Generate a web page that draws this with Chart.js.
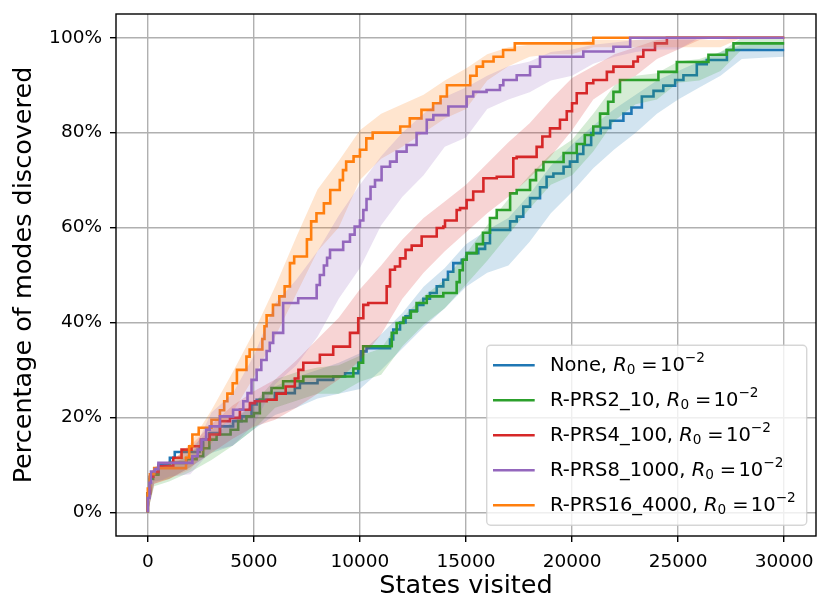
<!DOCTYPE html>
<html><head><meta charset="utf-8">
<script src="https://cdn.jsdelivr.net/npm/chart.js@4.4.1/dist/chart.umd.min.js"></script>
<style>html,body{margin:0;padding:0;background:#fff}canvas{display:block}</style>
</head><body>
<canvas id="c" width="830" height="615"></canvas>
<script>
// ---- data ----
const xTicks = [0, 5000, 10000, 15000, 20000, 25000, 30000];
const yTicks = [0, 20, 40, 60, 80, 100];
const seriesNames = ['None', 'R-PRS2_10', 'R-PRS4_100', 'R-PRS8_1000', 'R-PRS16_4000'];
const colors = ['#1f77b4', '#2ca02c', '#d62728', '#9467bd', '#ff7f0e'];

const noneX = [0,100,250,500,1040,1270,2450,2610,2900,3400,4020,4420,4890,5130,5990,6930,7170,8000,8740,9300,9920,10050,10310,11420,11570,11890,12150,12360,12700,12990,13300,13620,13930,14150,14400,14800,15030,15580,15900,16130,17080,17390,17700,18020,18490,18800,19120,19600,19900,20250,20530,20900,21350,21800,22420,22800,23290,23840,24300,24860,25250,25880,26350,27300,27370,30000];
const noneY = [0,4,7.5,8.2,10,11.5,12.7,13.9,15.3,16.7,18.1,19.2,20.2,22.7,23.7,25.1,26.2,27.2,27.9,28.6,29.3,31.5,33.9,34.6,36.4,38.5,40,41.3,42.5,43.7,45,46.2,47.6,49,50.7,52.5,53.2,54.6,55.5,56.7,59.5,61.3,62.3,64.4,66.2,68.5,70.7,71.4,72.8,73.9,75.5,77.4,79.9,81,82.5,84,85.3,87.6,88.8,89.9,91.1,92.1,94.4,95.3,97.4,97.4];

const prs2X = [0,100,250,500,1040,1825,2300,2610,2900,3240,3900,4260,4650,5000,5280,5440,5830,6380,7330,9690,9950,10150,11500,11730,12050,12400,12670,13150,13930,14560,14700,14850,15030,15500,15800,16130,16450,17080,17390,18020,18300,18650,19600,20220,20600,21000,21320,21700,21950,22260,24070,24940,26430,27290,27610,27920,30000];
const prs2Y = [0,4,7,7.9,9.7,10.4,11.2,11.8,13.5,15.3,16.4,17.4,19.2,20.2,20.9,23.7,25.1,26.2,27.6,28.6,30.3,31.5,35,37.8,39.9,41,42.3,44.1,45.5,46.2,48.5,51,53.2,54.6,56.5,58.9,62,63.7,67.2,67.9,70,72.1,73.8,75.7,77.6,79.5,81.3,84,86.5,88.6,91.1,92.8,94.9,96.4,97.4,98.8,98.8];

const prs4X = [0,100,250,500,1200,1590,2060,2500,2920,3400,3870,4340,4810,5050,5600,6070,6500,6930,7100,7330,8110,8740,9530,9920,10160,10390,11260,11420,11650,11890,12150,12440,12910,13620,13930,14010,14560,14720,15030,15340,15820,16450,17230,17390,18330,18600,18960,19430,19750,20000,20220,20690,21000,21640,21950,22890,23100,23360,23910,24470,25570,30000];
const prs4Y = [0,4,7.5,8.5,9.7,11.5,13.2,13.9,15.3,16.4,19.2,19.9,21.6,23,23.4,23.7,25,26.5,28.2,30,31.5,33.2,34.9,37.8,40.9,43.7,44.1,47.6,51.1,51.8,53.5,55.3,56.2,58.1,59.9,60.2,61.5,63.7,64.1,65.8,67.6,70.4,70.7,74.6,74.9,77,79.2,80.9,82.7,84.5,86.2,88.3,90.4,91.1,92.8,93.9,95,96,97.4,98.8,100,100];

const prs8X = [0,80,150,330,500,2100,2350,2530,2750,2920,3400,4020,4500,4700,4890,5130,5350,5600,5750,5910,6380,7090,7960,8110,8300,8450,8590,9210,9530,9750,10000,10160,10310,10500,10710,11020,11420,11730,12200,12670,13150,13460,14170,15030,15340,15970,16600,16760,17390,18020,18490,20530,21950,22740,25720,30000];
const prs8Y = [0,3,6.2,8.6,9.1,10.4,11.8,13.2,15.3,17.4,18.1,20.2,21.6,23.4,25.1,27.9,30,32.1,34,35.7,37.8,44.1,45.1,47.9,50,52,53.6,55.3,57,58.5,60.2,61.5,63.7,66,68.6,70,72.8,73.9,76,77.4,79.9,82.7,83.7,85.5,87.6,88.6,89,90,91.1,92.1,93.9,96,97.1,98.1,100,100];

const prs16X = [0,100,300,1800,1950,2100,2400,3000,3400,3600,3750,4000,4200,4650,4800,5400,5500,5600,5900,6200,6450,6700,6900,7500,7700,7950,8300,8600,9050,9200,9350,9700,10000,10300,10600,11900,12350,12900,13450,13800,14100,15200,15500,15800,16300,16750,17300,21000,27650,30000];
const prs16Y = [0,5,8,9.3,11.5,13.9,16.4,17.8,19.5,21.5,23.4,25,27.2,30,32.8,34.3,36.5,39.2,41.5,43.7,45.5,47.6,52.5,53.9,57.5,61.3,63,65.1,67.9,70,72.1,73.9,75,76.4,78.8,80,81.3,83,84.8,86.2,87.6,90,92,93.9,95,96,97.4,98.8,100,100];

// shaded band edges, sampled at bandX
const bandX = [0,300,1000,2000,3000,4000,5000,6000,7000,8000,9000,10000,11000,12000,13000,14000,15000,16000,17000,18000,19000,20000,21000,22000,23000,24000,25000,26000,27000,28000,29000,30000];
const noneLo = [0,6.5,7,9.5,12.5,14,17.5,20.5,22,24,25,26,30,34.5,39,43,47.5,50.5,52,57,63,67.5,72.5,76.5,80,84,87,89.5,92,95.5,95.8,96];
const noneHi = [0,9.5,10.5,13.5,17.5,19.5,23,26.5,28.5,30,31.5,33.5,37.5,42,47.5,51.5,56.5,59.5,62,67,73,77.5,81.5,85,88,91,93,95,97,98.5,98.6,98.8];
const prs2Lo = [0,5.5,6.5,8.5,11,14,17.5,22,23.5,25,25,27.5,29,35,39.5,43,48,53,58.5,64,69,71,76,82.5,86,87,90.5,91,93,97.5,97.8,97.8];
const prs2Hi = [0,9,9.5,12.5,16,19,23,28,29.5,30.5,31,33,34.5,41,45.5,49,54.5,60.5,66,71,75.5,78.5,84,90,92,92.5,95,95.5,97,100,100,100];
const prs4Lo = [0,6,7,9.5,12.5,15.5,18,19.5,22,25,28,32,37.5,45,50.5,55,59,63,66.5,70.5,75,80.5,87,90,92,95.5,97.5,99.5,100,100,100,100];
const prs4Hi = [0,9.5,10.5,14,18.5,22.5,25.5,28,32,36.5,41,47,52,57.5,62,65.5,69,73.5,78,82,87,91.5,94,96.5,98,99.5,100,100,100,100,100,100];
const prs8Lo = [0,6,7.5,8,13,14,18.5,27,31,37,45,51.5,60.5,66.5,71,77,79,85,87,88.5,91,92,94.5,96,97,97.5,97.5,100,100,100,100,100];
const prs8Hi = [0,9.5,10.5,11.5,21,25,33,44,49,55,62.5,69,75,80,84,87.5,89.5,92,94,95,97,97.5,98.5,99,99.5,100,100,100,100,100,100,100];
const prs16Lo = [0,6,7,9,14.5,21,28.5,37,46,55,60,70,74.5,77,80,83,85,91,94,96,96.5,96.5,98,98,98,98,98,98,98,100,100,100];
const prs16Hi = [0,9,10,14.5,21.5,29.5,38,47.5,58,68,74,80.5,84,86,88,91,93.5,96.5,98,98.5,98.5,98.8,99.5,99.5,99.5,99.5,99.5,99.5,99.5,100,100,100];

const lineXs = [noneX, prs2X, prs4X, prs8X, prs16X];
const lineYs = [noneY, prs2Y, prs4Y, prs8Y, prs16Y];
const bandLos = [noneLo, prs2Lo, prs4Lo, prs8Lo, prs16Lo];
const bandHis = [noneHi, prs2Hi, prs4Hi, prs8Hi, prs16Hi];
// bottom-to-top drawing sequence (series indices)
const drawSequence = [0, 1, 2, 4, 3];

// ---- build datasets ----
function pts(xs, ys) { return xs.map((x, i) => ({x: x, y: ys[i]})); }
function rgba(hex, a) {
  const n = parseInt(hex.slice(1), 16);
  return `rgba(${(n >> 16) & 255},${(n >> 8) & 255},${n & 255},${a})`;
}
const datasets = [];
drawSequence.forEach((i, k) => {
  const name = seriesNames[i];
  const loIdx = datasets.length;
  datasets.push({
    label: name + ' lo', data: pts(bandX, bandLos[i]),
    borderColor: 'rgba(0,0,0,0)', borderWidth: 0, pointRadius: 0, fill: false,
    order: 1000 - (k * 3)
  });
  datasets.push({
    label: name + ' hi', data: pts(bandX, bandHis[i]),
    borderColor: 'rgba(0,0,0,0)', borderWidth: 0, pointRadius: 0,
    backgroundColor: rgba(colors[i], 0.2), fill: loIdx,
    order: 1000 - (k * 3 + 1)
  });
  datasets.push({
    label: name, data: pts(lineXs[i], lineYs[i]),
    borderColor: colors[i], borderWidth: 2.6, pointRadius: 0, fill: false,
    stepped: 'after', borderCapStyle: 'butt', borderJoinStyle: 'miter',
    order: 1000 - (k * 3 + 2)
  });
});

// ---- frame + legend ----
function drawMathLabel(ctx, x, y, name, fs) {
  const fam = '"DejaVu Sans"';
  ctx.fillStyle = '#000';
  ctx.textBaseline = 'alphabetic';
  ctx.textAlign = 'left';
  ctx.font = `${fs}px ${fam}`;
  const pre = name + ', ';
  ctx.fillText(pre, x, y); x += ctx.measureText(pre).width;
  ctx.font = `italic ${fs}px ${fam}`;
  ctx.fillText('R', x, y); x += ctx.measureText('R').width;
  const sfs = fs * 0.7;
  ctx.font = `${sfs}px ${fam}`;
  ctx.fillText('0', x, y + fs * 0.15); x += ctx.measureText('0').width;
  ctx.font = `${fs}px ${fam}`;
  x += fs * 0.3;
  ctx.fillText('=', x, y); x += ctx.measureText('=').width + fs * 0.12;
  ctx.fillText('10', x, y); x += ctx.measureText('10').width;
  ctx.font = `${sfs}px ${fam}`;
  ctx.fillText('\u22122', x, y - fs * 0.45);
}

const frameLegend = {
  id: 'frameLegend',
  afterDraw(chart) {
    const {ctx, chartArea: a} = chart;
    ctx.save();
    ctx.strokeStyle = '#000';
    ctx.lineWidth = 1.4;
    ctx.strokeRect(a.left, a.top, a.right - a.left, a.bottom - a.top);

    const fs = 19.5, w = 320, h = 180, r = 4;
    const bx = a.right - 9.3 - w, by = a.bottom - 10.7 - h;
    ctx.beginPath();
    ctx.moveTo(bx + r, by);
    ctx.lineTo(bx + w - r, by); ctx.arcTo(bx + w, by, bx + w, by + r, r);
    ctx.lineTo(bx + w, by + h - r); ctx.arcTo(bx + w, by + h, bx + w - r, by + h, r);
    ctx.lineTo(bx + r, by + h); ctx.arcTo(bx, by + h, bx, by + h - r, r);
    ctx.lineTo(bx, by + r); ctx.arcTo(bx, by, bx + r, by, r);
    ctx.closePath();
    ctx.fillStyle = 'rgba(255,255,255,0.8)';
    ctx.fill();
    ctx.strokeStyle = 'rgba(204,204,204,0.8)';
    ctx.lineWidth = 1.4;
    ctx.stroke();

    seriesNames.forEach((name, i) => {
      const yy = by + 20 + i * 35;
      ctx.beginPath();
      ctx.strokeStyle = colors[i];
      ctx.lineWidth = 2.6;
      ctx.moveTo(bx + 6.3, yy); ctx.lineTo(bx + 48, yy);
      ctx.stroke();
      drawMathLabel(ctx, bx + 63.3, yy + 5.7, name, fs);
    });
    ctx.restore();
  }
};

Chart.defaults.font.family = '"DejaVu Sans"';
Chart.defaults.color = '#000';

new Chart(document.getElementById('c'), {
  type: 'line',
  data: { datasets: datasets },
  options: {
    responsive: false,
    animation: false,
    events: [],
    layout: { padding: { top: 14, right: 14, left: 0, bottom: 0 } },
    plugins: {
      legend: { display: false },
      tooltip: { enabled: false },
      filler: { propagate: false }
    },
    elements: { line: { tension: 0 } },
    scales: {
      x: {
        type: 'linear', min: -1500, max: 31500,
        afterBuildTicks: s => { s.ticks = xTicks.map(v => ({value: v})); },
        afterFit: s => { s.height = 79; s.paddingLeft = 0; s.paddingRight = 0; },
        grid: { color: '#b0b0b0', lineWidth: 1.4, tickLength: 6, tickColor: '#000', tickWidth: 1.4 },
        border: { display: false },
        ticks: { font: { size: 18.5 }, color: '#000', padding: 9, maxRotation: 0, autoSkip: false,
                 callback: v => String(v) },
        title: { display: true, text: 'States visited', font: { size: 25.5 }, color: '#000',
                 padding: { top: 0, bottom: 13 } }
      },
      y: {
        type: 'linear', min: -5, max: 105,
        afterBuildTicks: s => { s.ticks = yTicks.map(v => ({value: v})); },
        afterFit: s => { s.width = 116; s.paddingTop = 0; s.paddingBottom = 0; },
        grid: { color: '#b0b0b0', lineWidth: 1.4, tickLength: 6, tickColor: '#000', tickWidth: 1.4 },
        border: { display: false },
        ticks: { font: { size: 18.5 }, color: '#000', padding: 8, autoSkip: false,
                 callback: v => v + '%' },
        title: { display: true, text: 'Percentage of modes discovered', font: { size: 25.5 }, color: '#000',
                 padding: { top: 9, bottom: 0 } }
      }
    }
  },
  plugins: [frameLegend]
});
</script>
</body></html>
